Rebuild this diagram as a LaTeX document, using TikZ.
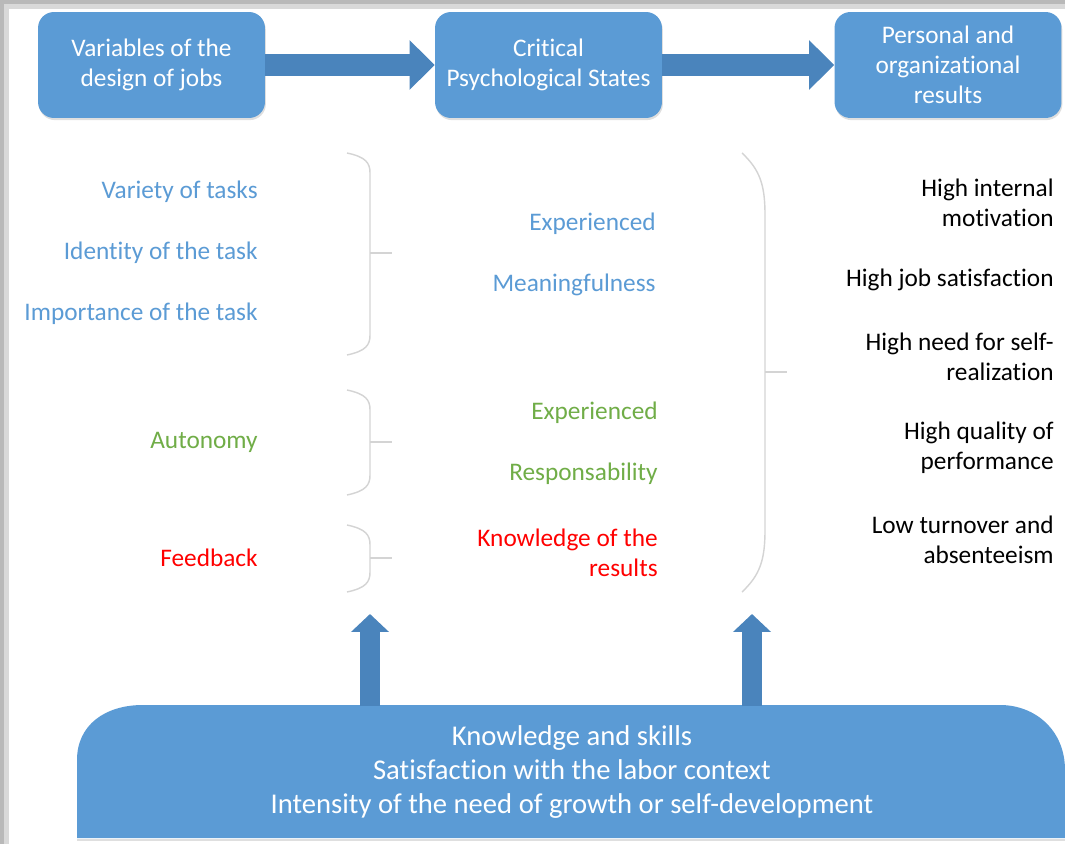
\documentclass[tikz,border=0pt]{standalone}
\usepackage{fontspec}
\setmainfont{Carlito}[Ligatures=NoCommon]
\usetikzlibrary{arrows.meta,shadows}

\definecolor{boxblue}{HTML}{5B9BD5}
\definecolor{arrowblue}{HTML}{4A84BC}
\definecolor{txtblue}{HTML}{5B9BD5}
\definecolor{txtgreen}{HTML}{70AD47}
\definecolor{txtred}{HTML}{FF0000}
\definecolor{bracegray}{HTML}{D4D4D4}

\begin{document}
\begin{tikzpicture}[
    x=0.02cm, y=-0.02cm,
    stagebox/.style={rectangle, rounded corners=0.32cm, fill=boxblue, text=white,
        minimum width=4.54cm, minimum height=2.12cm, align=center,
        font=\fontsize{14.4}{17}\selectfont,
        drop shadow={opacity=0.25, shadow xshift=0.5pt, shadow yshift=-1.2pt}},
    flowarrow/.style={arrowblue, line width=0.44cm,
        -{Triangle[length=0.5cm, width=0.96cm]}},
    uparrow/.style={arrowblue, line width=0.4cm,
        -{Triangle[length=0.36cm, width=0.74cm]}},
    itemtxt/.style={anchor=east, align=right, inner sep=0pt,
        font=\fontsize{14.4}{17}\selectfont},
    bracket/.style={bracegray, line width=0.8pt},
]

\useasboundingbox (0,0) rectangle (1065,844);

% Page with its shadow
\fill[gray!55] (0,0) rectangle (1065,844);
\fill[gray!30] (4,4) rectangle (1065,844);
\fill[white] (9,9) rectangle (1065,844);

% Top row: the three stages
\node[stagebox] (design) at (151.5,65) {Variables of the\\design of jobs};
\node[stagebox] (states) at (548.5,65) {Critical\\Psychological States};
\node[stagebox] (results) at (948,65) {Personal and\\organizational\\results};

\draw[flowarrow] (design.east) -- (states.west);
\draw[flowarrow] (states.east) -- (results.west);

% Job design variables
\foreach \n/\y/\t in {variety/192/Variety of tasks,
                      identity/253/Identity of the task,
                      importance/314/Importance of the task}
    \node[itemtxt, txtblue] (\n) at (258,\y) {\t};
\node[itemtxt, txtgreen] (autonomy) at (258,442) {Autonomy};
\node[itemtxt, txtred] (feedback) at (258,558) {Feedback};

% Small braces (top / tick / bottom)
\foreach \bt/\bm/\bb in {153/253/355, 390/442/495, 525/558/592} {
    \draw[bracket] (347,\bt) .. controls (366,\bt+4) and (370,\bt+10) .. (370,\bt+20)
        -- (370,\bb-20) .. controls (370,\bb-10) and (366,\bb-4) .. (347,\bb);
    \draw[bracket] (370,\bm) -- (392,\bm);
}

% Critical psychological states
\node[itemtxt, txtblue] (meaning) at (656,254) {Experienced\\[17.6pt]Meaningfulness};
\node[itemtxt, txtgreen] (respons) at (658,443) {Experienced\\[17.6pt]Responsability};
\node[itemtxt, txtred] (knowledge) at (658,553) {Knowledge of the\\results};

% Large brace
\draw[bracket] (742,153) .. controls (760,170) and (765,185) .. (765,215)
    -- (765,530) .. controls (765,560) and (760,575) .. (742,592);
\draw[bracket] (765,372) -- (787,372);

% Outcomes
\node[itemtxt] (motivation) at (1054,203) {High internal\\motivation};
\node[itemtxt] (satisf) at (1054,280) {High job satisfaction};
\node[itemtxt] (realiz) at (1054,357) {High need for self-\\realization};
\node[itemtxt] (quality) at (1054,448) {High quality of\\performance};
\node[itemtxt] (turnover) at (1054,540) {Low turnover and\\absenteeism};

% Moderators at the bottom
\fill[boxblue] (77,838) -- (77,760) .. controls (77,725) and (105,705) .. (143,705)
    -- (1000,705) .. controls (1035,705) and (1065,730) .. (1065,770) -- (1065,838) -- cycle;
\draw[gray!25, line width=1pt] (77,840) -- (1065,840);
\node[text=white, align=center, font=\fontsize{16.3}{19.3}\selectfont] (needs) at (572,772)
    {Knowledge and skills\\Satisfaction with the labor context\\Intensity of the need of growth or self-development};

\coordinate (base1) at (370,706);
\coordinate (base2) at (752,706);
\coordinate (tip1) at (370,614);
\coordinate (tip2) at (752,614);
\draw[uparrow] (base1) -- (tip1);
\draw[uparrow] (base2) -- (tip2);

\end{tikzpicture}
\end{document}
